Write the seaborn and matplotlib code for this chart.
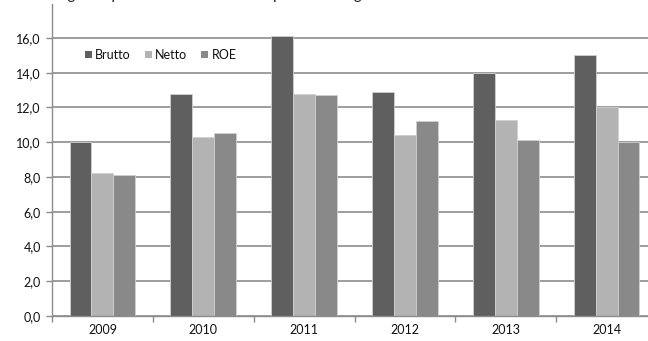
import matplotlib
matplotlib.use("Agg")
import matplotlib.pyplot as plt
import seaborn as sns
import pandas as pd
from matplotlib.ticker import FixedLocator, FuncFormatter

years = ["2009", "2010", "2011", "2012", "2013", "2014"]
series = ["Brutto", "Netto", "ROE"]
brutto = [10.0, 12.8, 16.1, 12.9, 14.0, 15.0]
netto = [8.2, 10.3, 12.8, 10.4, 11.3, 12.0]
roe = [8.1, 10.5, 12.7, 11.2, 10.1, 10.0]
y_ticks = [0, 2, 4, 6, 8, 10, 12, 14, 16]
title = "Margine e profitto lordo e netto rispetto al margine"

colors = {"Brutto": "#5f5f5f", "Netto": "#b3b3b3", "ROE": "#898989"}

df = pd.DataFrame({
    "Anno": years * 3,
    "Serie": ["Brutto"] * 6 + ["Netto"] * 6 + ["ROE"] * 6,
    "Valore": brutto + netto + roe,
})

sns.set_theme(style="white")
plt.rcParams["font.family"] = ["Lato", "DejaVu Sans"]

fig = plt.figure(figsize=(6.48, 3.41), dpi=100)
ax = fig.add_axes([52 / 648, 1 - 316 / 341, 605 / 648, 312 / 341])

sns.barplot(data=df, x="Anno", y="Valore", hue="Serie", palette=colors,
            width=0.65, dodge=True, ax=ax, errorbar=None,
            edgecolor="#d0d0d0", linewidth=0.6, legend=True)

ax.set_xlim(-0.5, 5.5)
ax.set_ylim(0, 17.95)
ax.yaxis.set_major_locator(FixedLocator(y_ticks))
ax.yaxis.set_major_formatter(FuncFormatter(lambda v, p: f"{v:.1f}".replace(".", ",")))
ax.grid(axis="y", color="#8c8c8c", linewidth=1.2)
ax.set_axisbelow(True)
ax.set_xlabel("")
ax.set_ylabel("")

for side in ["top", "right"]:
    ax.spines[side].set_visible(False)
for side in ["left", "bottom"]:
    ax.spines[side].set_color("#8c8c8c")
    ax.spines[side].set_linewidth(1.0)

ax.tick_params(axis="y", which="major", left=True, length=4, width=1.0,
               color="#8c8c8c", labelsize=9, labelcolor="#111111", pad=4)
ax.tick_params(axis="x", which="major", bottom=False, length=0,
               labelsize=9, labelcolor="#111111", pad=6)
ax.xaxis.set_minor_locator(FixedLocator([i + 0.5 for i in range(-1, 6)]))
ax.tick_params(axis="x", which="minor", bottom=True, length=4, width=1.0,
               color="#8c8c8c")

leg = ax.legend(loc="center left", bbox_to_anchor=(0.054, 0.837), ncol=3,
                frameon=False, fontsize=9, handlelength=0.55, handleheight=0.55,
                handletextpad=0.3, columnspacing=1.1, borderaxespad=0,
                borderpad=0)
for h in leg.legend_handles:
    h.set_edgecolor("none")
for t in leg.get_texts():
    t.set_color("#111111")

fig.text(40 / 648, 1.0 + 1.0 / 341, title, fontsize=11, color="#222222",
         ha="left", va="baseline")

fig.savefig("out.png", dpi=100)
